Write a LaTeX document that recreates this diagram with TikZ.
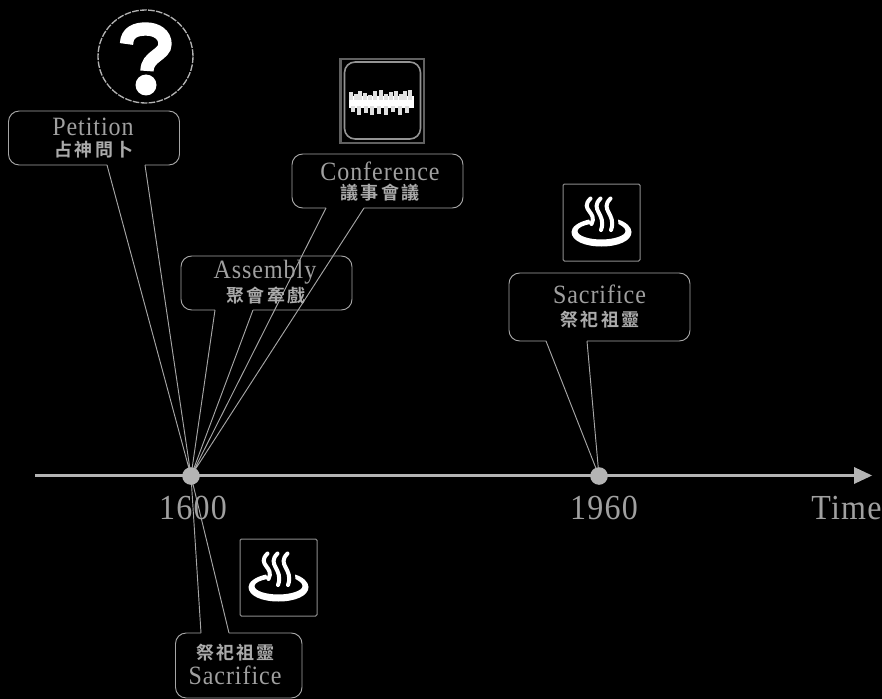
\documentclass[tikz,border=0pt]{standalone}
\usepackage{fontspec}
\setmainfont{Liberation Serif}[LetterSpace=4]
\newfontfamily\cjk[LetterSpace=12]{Noto Sans CJK TC Bold}
\definecolor{ink}{HTML}{B4B4B4}
\definecolor{thin}{HTML}{A0A0A0}
\definecolor{hanink}{HTML}{ABABAB}
\definecolor{edge}{HTML}{A6A6A6}
\tikzset{
  bubble/.style={draw=edge,line width=.7pt,line join=round},
  latin/.style={text=thin,font=\fontsize{18pt}{19pt}\selectfont,anchor=base,inner sep=0pt,yscale=1.1},
  bigtext/.style={text=thin,font=\fontsize{24pt}{25pt}\selectfont,anchor=base,inner sep=0pt,yscale=1.1},
  han/.style={text=hanink,font=\cjk\fontsize{13.5pt}{15pt}\selectfont,inner sep=0pt},
  dot/.style={circle,fill=ink,inner sep=0pt,minimum size=13.2pt},
}
% left top right bottom tail1 tail2 tip attach-edge-y
\newcommand{\callout}[8]{%
  \coordinate (#7a) at (#5,#8);
  \coordinate (#7b) at (#6,#8);
  \draw[bubble,rounded corners=8pt] (#7b) -- (#3,#8) -- (#3,{#8==#2?#4:#2}) -- (#1,{#8==#2?#4:#2}) -- (#1,#8) -- (#7a);
}
\newcommand{\bath}[2]{%
  \begin{scope}[shift={(#1,#2)}]
    \draw[black!45,line width=.75pt,rounded corners=1pt] (0,0) rectangle (77,77);
    \fill[white] (26,35.5) .. controls (15,38) and (8.5,43) .. (8.5,48)
      .. controls (8.5,57) and (22,62.5) .. (38.5,62.5)
      .. controls (55,62.5) and (68.5,57) .. (68.5,48)
      .. controls (68.5,43) and (63,38) .. (55,35.5)
      -- (55.5,40) .. controls (59,42) and (62.5,44) .. (62.5,47)
      .. controls (62.5,52) and (50,55.5) .. (38.5,55.5)
      .. controls (26,55.5) and (14.5,52) .. (14.5,47)
      .. controls (14.5,44) and (20,41) .. (28.3,40) -- cycle;
    \draw[white,line width=3pt,line cap=round]
      (27.5,14.5) .. controls (16,26) and (35,28) .. (28.5,40)
      (37.5,14.5) .. controls (26,26) and (44,30) .. (38,46)
      (47.5,14.5) .. controls (36,26) and (54,30) .. (48,46);
  \end{scope}}
\begin{document}
\begin{tikzpicture}[x=.75pt,y=-.75pt]
\fill[black] (0,0) rectangle (882,699);
\useasboundingbox (0,0) rectangle (882,699);

% question icon
\draw[black!30,line width=1pt,dash pattern=on 5pt off 1pt] (145.5,56.5) ellipse [x radius=47.5,y radius=46.5];
\draw[white,line width=10pt] (126.5,44) .. controls (127,32) and (136,29) .. (146,29)
  .. controls (157,29) and (165,35) .. (165,44)
  .. controls (165,55) and (147,56) .. (147,71);
\fill[white] (146,85) circle (10.5);

% conference icon
\draw[black!62,line width=1.6pt] (340.5,59) rectangle (424,143);
\draw[black!42,line width=1.2pt,rounded corners=8pt] (344.5,62) rectangle (420.5,139);
\fill[white] (348.5,96) rectangle (413.5,108);
\foreach \x/\h in {351/92,356/94,360/91,365/93,370/95,375/91,381/90,386/94,391/92,396/91,401/94,405/91,410/90}
  \fill[black!12] (\x-2,\h) rectangle (\x+2,100);
\foreach \x/\h in {353/112,359/115,366/113,372/115,379/114,386/115,393/112,400/115,407/113}
  \fill[black!12] (\x-2.4,106) rectangle (\x+2.4,\h);

% bath icons
\bath{563}{184}
\bath{240}{539}

% timeline anchors
\coordinate (tipA) at (191,476);
\coordinate (tipB) at (599,476);

% callouts
\callout{8.5}{111}{179.5}{165}{107}{145}{pet}{165}
\callout{292}{154}{463}{208}{326}{364}{con}{208}
\callout{181}{256}{352}{310}{215}{253}{ass}{310}
\callout{509}{273}{690}{341}{546}{587}{sac}{341}
\callout{175.5}{698}{302}{633}{201}{229}{low}{633}

\draw[bubble] (peta) -- (tipA) -- (petb);
\draw[bubble] (cona) -- (tipA) -- (conb);
\draw[bubble] (assa) -- (tipA) -- (assb);
\draw[bubble] (saca) -- (tipB) -- (sacb);
\draw[bubble] (lowa) -- (tipA) -- (lowb);

% axis
\coordinate (axisstart) at (35,475.5);
\coordinate (axisend) at (854,475.5);
\draw[ink,line width=2.2pt] (axisstart) -- (axisend);
\fill[ink] (854,467) -- (872,475.5) -- (854,484) -- cycle;
\node[dot] (d1600) at (tipA) {};
\node[dot] (d1960) at (tipB) {};

% labels
\node[latin] (l1) at (93,135.5) {Petition};
\node[han] (h1) at (94,149.5) {占神問卜};
\node[latin] (l2) at (380,180) {Conference};
\node[han] (h2) at (380,193) {議事會議};
\node[latin] (l3) at (265,278) {Assembly};
\node[han] (h3) at (266,295.5) {聚會牽戲};
\node[latin] (l4) at (599.5,303) {Sacrifice};
\node[han] (h4) at (600,319.5) {祭祀祖靈};
\node[han] (h5) at (235.5,653) {祭祀祖靈};
\node[latin] (l5) at (235,684) {Sacrifice};
\node[bigtext] (y1) at (193,519.5) {1600};
\node[bigtext] (y2) at (604,519.5) {1960};
\node[bigtext] (y3) at (846.5,519.5) {Time};
\end{tikzpicture}
\end{document}
